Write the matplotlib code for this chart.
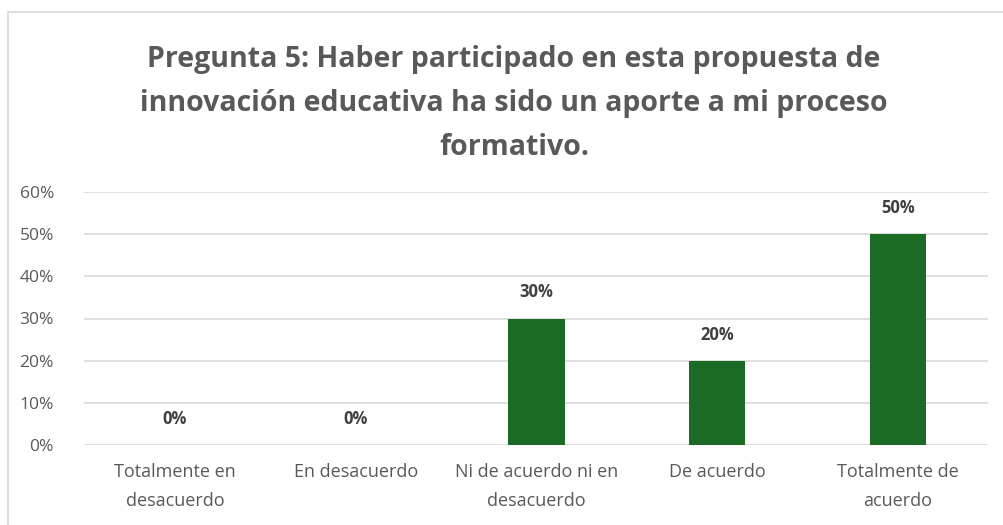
import matplotlib
matplotlib.use("Agg")
import matplotlib.pyplot as plt
from matplotlib.patches import Rectangle

categories = ["Totalmente en\ndesacuerdo", "En desacuerdo", "Ni de acuerdo ni en\ndesacuerdo",
              "De acuerdo", "Totalmente de\nacuerdo"]
values = [0.0, 0.0, 0.30, 0.20, 0.50]
yticks = [0.0, 0.1, 0.2, 0.3, 0.4, 0.5, 0.6]
ytick_labels = ["0%", "10%", "20%", "30%", "40%", "50%", "60%"]
title = ("Pregunta 5: Haber participado en esta propuesta de\n"
         "innovación educativa ha sido un aporte a mi proceso\nformativo.")

plt.rcParams['font.family'] = ['Open Sans', 'DejaVu Sans']

fig = plt.figure(figsize=(10.04, 5.25), dpi=100)
fig.patch.set_facecolor("white")

# chart border
fig.patches.append(Rectangle((8/1004, -0.01), 1.0, 1 - 12/525 + 0.01, transform=fig.transFigure,
                             fill=False, edgecolor="#d9d9d9", linewidth=1.2))

ax = fig.add_axes([84.5/1004, 1 - 445/525, 904/1004, 253/525])
x = range(len(categories))
bars = ax.bar(x, values, width=0.31, color="#1b6b24", linewidth=0, zorder=3)
ax.set_xlim(-0.5, len(categories) - 0.5)
ax.set_ylim(0, 0.6)
ax.set_yticks(yticks)
ax.set_yticklabels(ytick_labels, color="#595959", fontsize=12.5)
ax.set_xticks(list(x))
ax.set_xticklabels(categories, color="#595959", fontsize=13, linespacing=1.75)
ax.tick_params(axis="both", length=0)
ax.tick_params(axis="x", pad=13)
ax.tick_params(axis="y", pad=22)
for s in ax.spines.values():
    s.set_visible(False)
ax.grid(axis="y", color="#d9d9d9", linewidth=1.2, zorder=0)
ax.set_axisbelow(True)

for xi, v in zip(x, values):
    ax.annotate(f"{v*100:.0f}%", (xi, v), xytext=(0, 17), textcoords="offset pixels",
                ha="center", va="bottom", fontsize=12, fontweight="bold", color="#404040")

fig.text(514/1004, 1 - 103.5/525, title, ha="center", va="center", fontsize=20.5,
         fontweight="bold", color="#595959", linespacing=1.68)

fig.savefig("out.png", dpi=100)
